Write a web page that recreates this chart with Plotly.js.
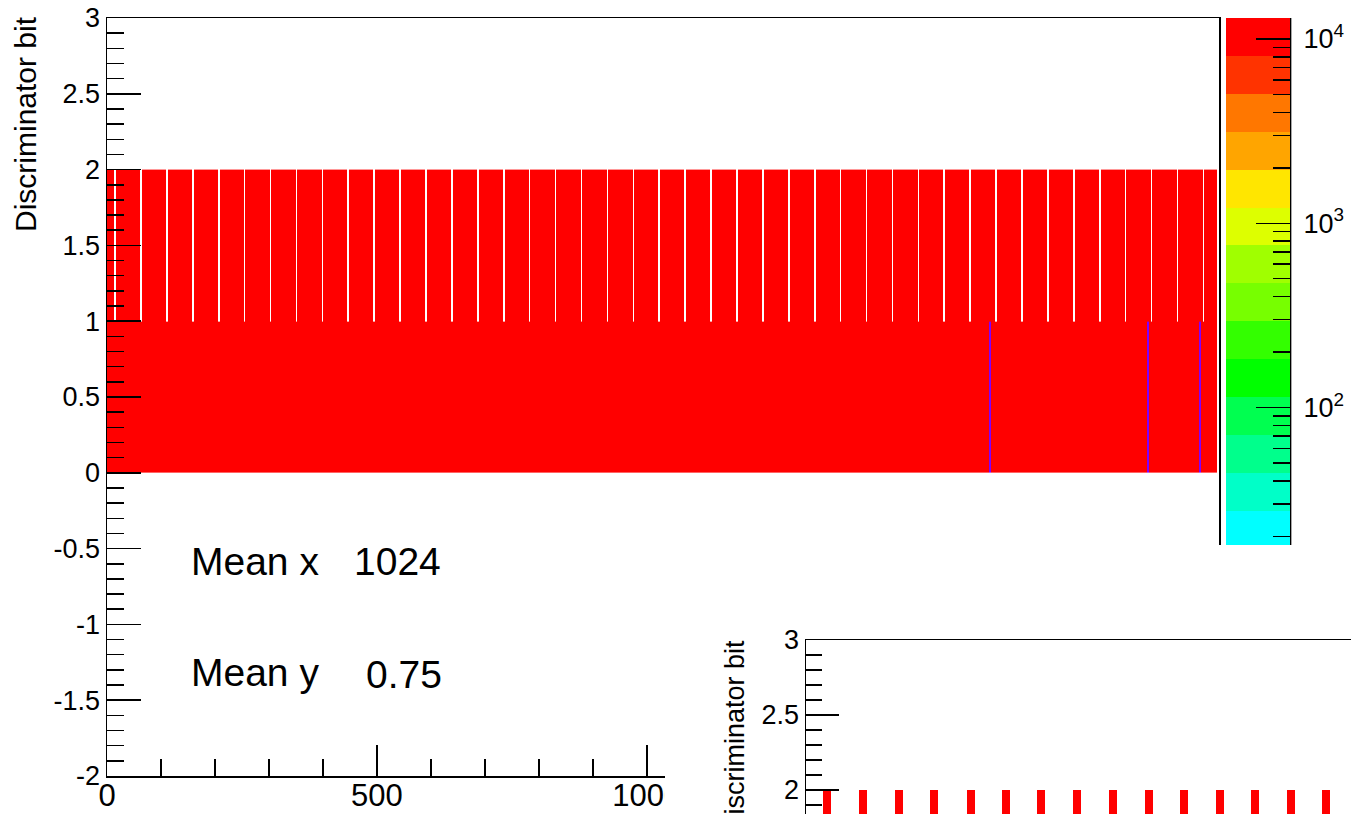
<!DOCTYPE html>
<html>
<head>
<meta charset="utf-8">
<script src="https://cdn.plot.ly/plotly-3.0.1.min.js"></script>
<style>
html,body{margin:0;padding:0;background:#fff;overflow:hidden;}
#main{position:absolute;left:0;top:0;width:1351px;height:814px;}
#inset{position:absolute;left:665px;top:545px;width:686px;height:269px;background:#fff;}
</style>
</head>
<body>
<div id="main"></div>
<div id="inset"></div>
<script>
// ---------------- data ----------------
const xRange = [0, 2060];
const yRange = [-2, 3];
const dataXMax = 2056;
const yBinEdges = [0, 1, 2];
const lowerRowCount = 13000;
const upperRowCount = 12500;
// empty bins (white lines) in the upper row (y 1..2)
const upperEmptyBins = [15, 63, 111, 159, 207, 255, 303, 351, 399, 447, 495, 543, 591, 639, 687,
  735, 783, 831, 879, 927, 975, 1023, 1071, 1119, 1167, 1215, 1263, 1311, 1359, 1407, 1455,
  1503, 1551, 1599, 1647, 1695, 1743, 1791, 1839, 1887, 1935, 1983, 2031];
const emptyBinWidth = 3;
// low-content bins (violet lines) in the lower row (y 0..1)
const lowerLowBins = [1636, 1928, 2025];
const lowBinWidth = 3;
const lowBinCount = 1;

const statLabels = ['Mean x', 'Mean y'];
const statValues = ['1024', '0.75'];

const yTickVals = [-2, -1.5, -1, -0.5, 0, 0.5, 1, 1.5, 2, 2.5, 3];
const yTickText = ['-2', '-1.5', '-1', '-0.5', '0', '0.5', '1', '1.5', '2', '2.5', '3'];
const xTickVals = [0, 500, 1000, 1500, 2000];
const xTickText = ['0', '500', '1000', '1500', '2000'];

const zMin = 1, zMax = 13000;
const cbMajorTicks = [100, 1000, 10000];
const cbMajorText = ['\u00a010<sup>2</sup>', '\u00a010<sup>3</sup>', '\u00a010<sup>4</sup>'];
const cbMinorTicks = [2, 3, 4, 5, 6, 7, 8, 9, 20, 30, 40, 50, 60, 70, 80, 90,
  200, 300, 400, 500, 600, 700, 800, 900, 2000, 3000, 4000, 5000, 6000, 7000, 8000, 9000];
// palette bands, lowest to highest
const paletteColors = ['#8000ff', '#5500ff', '#2a00ff', '#0030ff', '#0078ff', '#00c0ff', '#00ffff',
  '#00ffc8', '#00ff8c', '#00ff50', '#00ff00', '#33ff00', '#77ff00', '#a0ff00', '#ddff00',
  '#ffe600', '#ffa500', '#ff7700', '#ff3300', '#ff0000'];

// inset panel
const insetXRange = [0, 1010];
const insetYRange = [1.84, 3];
const insetBinCenters = [39, 106, 172, 238, 305, 371, 436, 503, 569, 635, 701, 767, 832, 899, 964];
const insetBinWidth = 15;
const insetCount = 12500;
const insetYTickVals = [2, 2.5, 3];
const insetYTickText = ['2', '2.5', '3'];
const insetBinEdgesY = [1, 2];

const axisTitle = 'Discriminator bit';

// ---------------- build ----------------
const FONT = 'Liberation Sans, Arial, Helvetica, sans-serif';
const log10 = v => Math.log10(v);

const colorscale = [];
paletteColors.forEach((c, i) => {
  colorscale.push([i / paletteColors.length, c]);
  colorscale.push([(i + 1) / paletteColors.length, c]);
});

const cuts = new Set([0, dataXMax]);
upperEmptyBins.forEach(c => { cuts.add(c - emptyBinWidth / 2); cuts.add(c + emptyBinWidth / 2); });
lowerLowBins.forEach(c => { cuts.add(c - lowBinWidth / 2); cuts.add(c + lowBinWidth / 2); });
const xEdges = [...cuts].sort((a, b) => a - b);
const zLower = [], zUpper = [];
for (let i = 0; i < xEdges.length - 1; i++) {
  const mid = (xEdges[i] + xEdges[i + 1]) / 2;
  const inGap = upperEmptyBins.some(c => Math.abs(mid - c) < emptyBinWidth / 2);
  const inLow = lowerLowBins.some(c => Math.abs(mid - c) < lowBinWidth / 2);
  zUpper.push(inGap ? null : log10(upperRowCount));
  zLower.push(log10(inLow ? lowBinCount : lowerRowCount));
}

const plotL = 107, plotR = 1219, plotT = 18, plotB = 776;
const W = 1351, H = 814;
const pw = plotR - plotL, ph = plotB - plotT;
const px2x = p => (p - plotL) / pw;
const px2y = p => (plotB - p) / ph;

const cbCommon = {
  thickness: 64, thicknessmode: 'pixels',
  len: ph, lenmode: 'pixels',
  x: px2x(1226), xanchor: 'left', xpad: 0,
  y: 1, yanchor: 'top', ypad: 0,
  outlinewidth: 0,
  ticks: 'inside', tickcolor: '#000', tickwidth: 1.5,
  tickfont: {family: FONT, size: 27, color: '#000'}
};

// main trace: palette bar with the minor (short) log ticks
const mainTrace = {
  type: 'heatmap',
  x: xEdges, y: yBinEdges, z: [zLower, zUpper],
  zmin: log10(zMin), zmax: log10(zMax),
  colorscale: colorscale, zsmooth: false,
  showscale: true, hoverinfo: 'skip',
  colorbar: Object.assign({}, cbCommon, {
    tickmode: 'array', tickvals: cbMinorTicks.concat(cbMajorTicks).map(log10),
    showticklabels: false, ticklen: 17
  })
};
// same data, invisible cells: carries the long decade ticks and their labels on the palette axis
const transparent = [[0, 'rgba(0,0,0,0)'], [1, 'rgba(0,0,0,0)']];
const majorTickTrace = {
  type: 'heatmap',
  x: xEdges, y: yBinEdges, z: [zLower, zUpper],
  zmin: log10(zMin), zmax: log10(zMax),
  colorscale: transparent, showscale: true, hoverinfo: 'skip',
  colorbar: Object.assign({}, cbCommon, {
    tickmode: 'array', tickvals: cbMajorTicks.map(log10), ticktext: cbMajorText,
    ticklen: 34, showticklabels: true
  })
};

const axisCommon = {
  showline: true, linecolor: '#000', linewidth: 1.5, mirror: true,
  showgrid: false, zeroline: false, ticks: 'inside', tickcolor: '#000', tickwidth: 1.5,
  tickmode: 'array'
};

const annotations = [
  {text: axisTitle, xref: 'paper', yref: 'paper', x: px2x(26), y: px2y(14),
   xanchor: 'center', yanchor: 'top', textangle: -90, showarrow: false,
   font: {family: FONT, size: 30, color: '#000'}},
  {text: statLabels[0], xref: 'paper', yref: 'paper', x: px2x(189), y: px2y(561),
   xanchor: 'left', yanchor: 'middle', showarrow: false, font: {family: FONT, size: 39, color: '#000'}},
  {text: statValues[0], xref: 'paper', yref: 'paper', x: px2x(352), y: px2y(561),
   xanchor: 'left', yanchor: 'middle', showarrow: false, font: {family: FONT, size: 39, color: '#000'}},
  {text: statLabels[1], xref: 'paper', yref: 'paper', x: px2x(189), y: px2y(672),
   xanchor: 'left', yanchor: 'middle', showarrow: false, font: {family: FONT, size: 39, color: '#000'}},
  {text: statValues[1], xref: 'paper', yref: 'paper', x: px2x(364), y: px2y(674),
   xanchor: 'left', yanchor: 'middle', showarrow: false, font: {family: FONT, size: 39, color: '#000'}}
];

const mainLayout = {
  width: W, height: H,
  margin: {l: plotL, r: W - plotR, t: plotT, b: H - plotB, pad: 0, autoexpand: false},
  paper_bgcolor: '#fff', plot_bgcolor: '#fff',
  showlegend: false,
  xaxis: Object.assign({}, axisCommon, {
    range: xRange, tickvals: xTickVals, ticktext: xTickText, ticklen: 31,
    ticklabelstandoff: -9, automargin: false,
    minor: {dtick: 100, tick0: 0, ticks: 'inside', ticklen: 17, tickwidth: 1.5, tickcolor: '#000', showgrid: false},
    tickfont: {family: FONT, size: 31, color: '#000'}
  }),
  yaxis: Object.assign({}, axisCommon, {
    range: yRange, tickvals: yTickVals, ticktext: yTickText, ticklen: 34, automargin: false,
    minor: {dtick: 0.1, tick0: 0, ticks: 'inside', ticklen: 17, tickwidth: 1.5, tickcolor: '#000', showgrid: false},
    tickfont: {family: FONT, size: 27, color: '#000'}
  }),
  shapes: [
    {type: 'line', xref: 'paper', yref: 'paper', x0: px2x(1290.6), x1: px2x(1290.6), y0: 0, y1: 1,
     line: {color: '#000', width: 1.5}, layer: 'above'}
  ],
  annotations: annotations
};

Plotly.newPlot('main', [mainTrace, majorTickTrace], mainLayout, {staticPlot: true, displayModeBar: false});

// ---------------- inset ----------------
const iW = 686, iH = 269, iL = 141, iT = 95;
const insetEdges = [];
const insetZ = [];
insetBinCenters.forEach(c => {
  insetEdges.push(c - insetBinWidth / 2);
  insetEdges.push(c + insetBinWidth / 2);
});
// cells alternate: filled bin, empty stretch, filled bin, ...
for (let i = 0; i < insetEdges.length - 1; i++) {
  insetZ.push(i % 2 === 0 ? log10(insetCount) : null);
}
const insetTrace = {
  type: 'heatmap', x: insetEdges, y: insetBinEdgesY, z: [insetZ],
  zmin: log10(zMin), zmax: log10(zMax), colorscale: colorscale, zsmooth: false,
  showscale: false, hoverinfo: 'skip'
};
const insetLayout = {
  width: iW, height: iH,
  margin: {l: iL, r: 0, t: iT, b: 0, pad: 0, autoexpand: false},
  paper_bgcolor: '#fff', plot_bgcolor: '#fff', showlegend: false,
  xaxis: {range: insetXRange, side: 'top', showline: true, linecolor: '#000', linewidth: 1.5,
          mirror: false, showgrid: false, zeroline: false, ticks: '', showticklabels: false},
  yaxis: Object.assign({}, axisCommon, {
    mirror: false, range: insetYRange, tickvals: insetYTickVals, ticktext: insetYTickText, ticklen: 33,
    automargin: false,
    minor: {dtick: 0.1, tick0: 0, ticks: 'inside', ticklen: 16, tickwidth: 1.5, tickcolor: '#000', showgrid: false},
    tickfont: {family: FONT, size: 27, color: '#000'}
  }),
  annotations: [
    {text: axisTitle, xref: 'paper', yref: 'paper', x: (70 - iL) / (iW - iL), y: (iH - 93) / (iH - iT),
     xanchor: 'center', yanchor: 'top', textangle: -90, showarrow: false,
     font: {family: FONT, size: 27, color: '#000'}}
  ]
};
Plotly.newPlot('inset', [insetTrace], insetLayout, {staticPlot: true, displayModeBar: false});
</script>
</body>
</html>
